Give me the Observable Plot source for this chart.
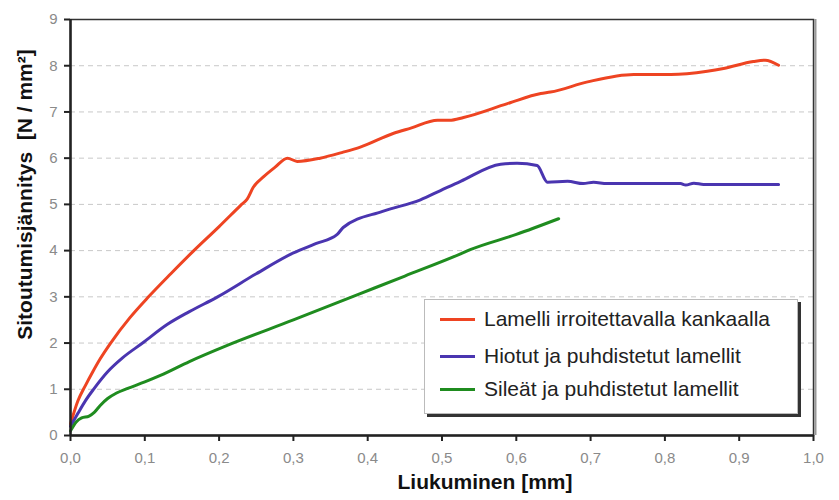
<!DOCTYPE html>
<html>
<head>
<meta charset="utf-8">
<script src="https://cdn.jsdelivr.net/npm/d3@7"></script>
<script src="https://cdn.jsdelivr.net/npm/@observablehq/plot@0.6"></script>
<style>
  html, body { margin: 0; padding: 0; background: #fff; }
  #wrap { position: relative; width: 839px; height: 500px; font-family: "Liberation Sans", Arial, sans-serif; }
  #legend { position: absolute; left: 424px; top: 299px; width: 372px; height: 113px;
    border: 1px solid #bbb; background: #fff; box-shadow: 3px 3px 0 #333; }
  .row { position: absolute; left: 0; height: 30px; display: flex; align-items: center; }
  .sw { width: 35px; height: 3px; margin-left: 15px; margin-right: 9px; }
  .lbl { font-size: 21px; color: #222; white-space: nowrap; }
</style>
</head>
<body>
<div id="wrap"></div>
<script>
// Series names and colours
const seriesNames = [
  "Lamelli irroitettavalla kankaalla",
  "Hiotut ja puhdistetut lamellit",
  "Sileät ja puhdistetut lamellit"
];
const seriesColors = ["#ee4422", "#4a35b0", "#1f8c1f"];

// Lamelli irroitettavalla kankaalla
const redX = [0, 0.01, 0.02, 0.03, 0.04, 0.054, 0.08, 0.105, 0.135, 0.166, 0.2, 0.229, 0.238, 0.246, 0.26, 0.275, 0.292, 0.305, 0.336, 0.367, 0.39, 0.435, 0.458, 0.494, 0.51, 0.529, 0.588, 0.633, 0.646, 0.696, 0.758, 0.808, 0.857, 0.879, 0.919, 0.935, 0.953];
const redY = [0.25, 0.75, 1.08, 1.38, 1.66, 2.0, 2.55, 3.0, 3.5, 4.0, 4.52, 4.98, 5.12, 5.37, 5.6, 5.8, 6.0, 5.93, 6.0, 6.13, 6.24, 6.54, 6.65, 6.82, 6.82, 6.88, 7.18, 7.40, 7.43, 7.65, 7.81, 7.81, 7.88, 7.94, 8.09, 8.12, 8.01];

// Hiotut ja puhdistetut lamellit
const blueX = [0, 0.01, 0.02, 0.031, 0.05, 0.07, 0.097, 0.13, 0.16, 0.198, 0.25, 0.3, 0.33, 0.359, 0.367, 0.42, 0.471, 0.498, 0.525, 0.579, 0.601, 0.628, 0.642, 0.669, 0.69, 0.704, 0.722, 0.821, 0.828, 0.839, 0.852, 0.953];
const blueY = [0.2, 0.48, 0.75, 1.0, 1.38, 1.68, 2.0, 2.4, 2.68, 3.0, 3.5, 3.95, 4.15, 4.35, 4.5, 4.85, 5.1, 5.3, 5.5, 5.87, 5.89, 5.84, 5.48, 5.5, 5.45, 5.48, 5.45, 5.45, 5.42, 5.46, 5.43, 5.43];

// Sileät ja puhdistetut lamellit
const greenX = [0, 0.008, 0.015, 0.025, 0.032, 0.04, 0.05, 0.062, 0.077, 0.1, 0.121, 0.16, 0.211, 0.3, 0.39, 0.45, 0.525, 0.538, 0.6, 0.657];
const greenY = [0.1, 0.3, 0.38, 0.42, 0.5, 0.65, 0.8, 0.92, 1.02, 1.16, 1.3, 1.6, 1.95, 2.5, 3.07, 3.45, 3.93, 4.02, 4.35, 4.69];

// Axis ticks and titles
const xTicks = [0, 0.1, 0.2, 0.3, 0.4, 0.5, 0.6, 0.7, 0.8, 0.9, 1.0];
const yTicks = [0, 1, 2, 3, 4, 5, 6, 7, 8, 9];
const gridY = [1, 2, 3, 4, 5, 6, 7, 8];
const xTitle = "Liukuminen [mm]";
const yTitle = "Sitoutumisjännitys  [N / mm²]";

const allX = [redX, blueX, greenX];
const allY = [redY, blueY, greenY];
const data = [];
seriesNames.forEach((s, i) => {
  allX[i].forEach((x, j) => data.push({series: s, x, y: allY[i][j]}));
});

const fmt = d => d3.format(".1f")(d).replace(".", ",");

const chart = Plot.plot({
  width: 839,
  height: 500,
  marginLeft: 70,
  marginRight: 26,
  marginTop: 19,
  marginBottom: 65,
  style: {fontFamily: "'Liberation Sans', Arial, sans-serif", background: "#fff"},
  x: {domain: [0, 1]},
  y: {domain: [0, 9]},
  color: {domain: seriesNames, range: seriesColors},
  marks: [
    Plot.ruleY(gridY, {stroke: "#c8c8c8", strokeDasharray: "5,4"}),
    Plot.ruleX([1], {dx: 2, stroke: "#999", strokeWidth: 2}),
    Plot.frame({stroke: "#333", strokeWidth: 1.5}),
    Plot.line(data, {x: "x", y: "y", z: "series", stroke: "series", strokeWidth: 3, curve: "monotone-x", strokeLinejoin: "round", strokeLinecap: "round"}),
    Plot.ruleX([0], {stroke: "#222", strokeWidth: 2.5, y1: 0, y2: 9}),
    Plot.ruleY([0], {stroke: "#222", strokeWidth: 2.5, x1: 0, x2: 1}),
    Plot.axisX(xTicks, {tickFormat: fmt, tickSize: 6, tickPadding: 11, fontSize: 15, stroke: "#222", strokeWidth: 2, fill: "#8a8a8a", label: null}),
    Plot.axisY(yTicks, {tickSize: 6, tickPadding: 7, fontSize: 15, stroke: "#222", strokeWidth: 2, fill: "#8a8a8a", label: null}),
    Plot.text([xTitle], {frameAnchor: "bottom", textAnchor: "middle", dx: 43, dy: 53, fontSize: 21, fontWeight: "bold", fill: "#111", text: d => d}),
    Plot.text([yTitle], {frameAnchor: "left", textAnchor: "middle", rotate: -90, dx: -45, dy: -33, fontSize: 21, fontWeight: "bold", fill: "#111", text: d => d})
  ]
});

const wrap = document.getElementById("wrap");
wrap.appendChild(chart);

const legend = document.createElement("div");
legend.id = "legend";
const rowTops = [4, 41, 74];
seriesNames.forEach((s, i) => {
  const row = document.createElement("div");
  row.className = "row";
  row.style.top = rowTops[i] + "px";
  const sw = document.createElement("div");
  sw.className = "sw";
  sw.style.background = seriesColors[i];
  const lbl = document.createElement("span");
  lbl.className = "lbl";
  lbl.textContent = s;
  row.appendChild(sw);
  row.appendChild(lbl);
  legend.appendChild(row);
});
wrap.appendChild(legend);
</script>
</body>
</html>
